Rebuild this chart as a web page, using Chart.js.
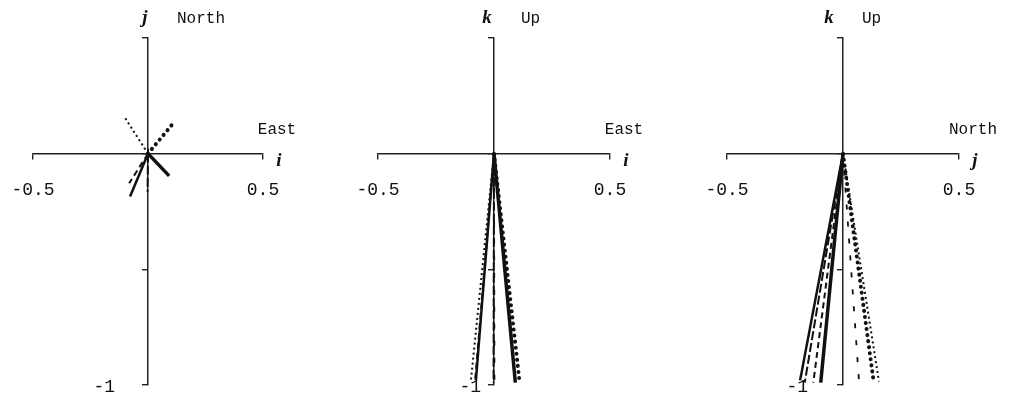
<!DOCTYPE html>
<html lang="en">
<head>
  <meta charset="UTF-8" />
  <title>Direction vectors</title>
  <script src="https://cdn.jsdelivr.net/npm/chart.js"></script>
  <style>
    body { margin: 0; background: #fff; }
    .panel { position: absolute; top: 0; }
  </style>
</head>
<body>
  <div class="panel" style="left:0"><canvas id="planeEN" width="340" height="401"></canvas></div>
  <div class="panel" style="left:345px"><canvas id="planeEU" width="330" height="401"></canvas></div>
  <div class="panel" style="left:680px"><canvas id="planeNU" width="335" height="401"></canvas></div>

  <script>
    // components of each direction vector (i = East, j = North, k = Up)
    const compI = [0.092, 0.110, -0.100, -0.078, -0.082, -0.002, 0.002];
    const compJ = [-0.096, 0.132, 0.155, -0.185, -0.128, -0.165, 0.070];
    const compK = [-0.990, -0.985, -0.985, -0.980, -0.990, -0.990, -0.997];

    const hTicks = [-0.5, 0.5];
    const vTicks = [-1];

    // one line style per vector
    const lineStyles = [
      { width: 3.5, dash: [] },
      { width: 4, dash: [0.1, 6], cap: 'round' },
      { width: 2, dash: [2, 3] },
      { width: 2.5, dash: [] },
      { width: 2, dash: [6, 4] },
      { width: 2, dash: [9, 3] },
      { width: 1.8, dash: [5, 12] }
    ];

    const ink = '#111';

    // tick labels and axis names, placed from the scales
    const axisText = {
      id: 'axisText',
      afterDraw(chart, args, opts) {
        const { ctx, scales: { x, y } } = chart;
        const x0 = x.getPixelForValue(0);
        const y0 = y.getPixelForValue(0);
        const top = y.getPixelForValue(0.5);
        const right = x.getPixelForValue(0.5);
        ctx.save();
        ctx.fillStyle = ink;

        ctx.font = '18px "Liberation Mono"';
        ctx.textAlign = 'center';
        ctx.textBaseline = 'top';
        hTicks.forEach(v => ctx.fillText(String(v), x.getPixelForValue(v), y0 + 28));
        ctx.textAlign = 'right';
        ctx.textBaseline = 'middle';
        vTicks.forEach(v => ctx.fillText(String(v), x0 - opts.vTickGap, y.getPixelForValue(v) + 2));

        ctx.textBaseline = 'alphabetic';
        ctx.textAlign = 'center';
        ctx.font = 'italic bold 19px "Liberation Serif"';
        ctx.fillText(opts.vName, x0 + opts.vNameDx, top - 15);
        ctx.fillText(opts.hName, right + 16, y0 + 12);
        ctx.font = '16px "Liberation Mono"';
        ctx.fillText(opts.hLabel, right + 14, y0 - 20);
        ctx.textAlign = 'left';
        ctx.fillText(opts.vLabel, x0 + opts.vLabelDx, top - 15);
        ctx.restore();
      }
    };

    function axisStyle(min, max, where, tickValues, flat) {
      return {
        type: 'linear',
        min, max,
        position: where,
        afterBuildTicks: s => { s.ticks = tickValues.map(value => ({ value })); },
        // axes cross inside the plot, so they take no room of their own
        afterFit: s => { s[flat] = 0; },
        grid: { display: true, drawOnChartArea: false, drawTicks: true, tickLength: 5, color: '#222', lineWidth: 1.4 },
        border: { display: true, color: '#222', width: 1.5 },
        ticks: { display: false }
      };
    }

    function drawPlane(id, h, v, text, pad) {
      const datasets = h.map((hx, n) => ({
        data: [{ x: 0, y: 0 }, { x: hx, y: v[n] }],
        showLine: true,
        borderColor: ink,
        borderWidth: lineStyles[n].width,
        borderDash: lineStyles[n].dash,
        borderCapStyle: lineStyles[n].cap || 'butt',
        pointRadius: 0,
        fill: false
      }));

      new Chart(document.getElementById(id), {
        type: 'scatter',
        data: { datasets },
        options: {
          responsive: false,
          animation: false,
          layout: { padding: pad },
          plugins: { legend: { display: false }, tooltip: { enabled: false }, axisText: text },
          scales: {
            x: axisStyle(-0.5, 0.5, { y: 0 }, [-0.5, 0, 0.5], 'height'),
            y: axisStyle(-1, 0.5, { x: 0 }, [-1, -0.5, 0, 0.5], 'width')
          }
        },
        plugins: [axisText]
      });
    }

    drawPlane('planeEN', compI, compJ,
      { hName: 'i', vName: 'j', hLabel: 'East', vLabel: 'North', vNameDx: -3, vLabelDx: 29, vTickGap: 33 },
      { left: 33, right: 77, top: 38, bottom: 16 });

    drawPlane('planeEU', compI, compK,
      { hName: 'i', vName: 'k', hLabel: 'East', vLabel: 'Up', vNameDx: -7, vLabelDx: 27, vTickGap: 13 },
      { left: 33, right: 65, top: 38, bottom: 16 });

    drawPlane('planeNU', compJ, compK,
      { hName: 'j', vName: 'k', hLabel: 'North', vLabel: 'Up', vNameDx: -14, vLabelDx: 19, vTickGap: 35 },
      { left: 47, right: 56, top: 38, bottom: 16 });
  </script>
</body>
</html>
